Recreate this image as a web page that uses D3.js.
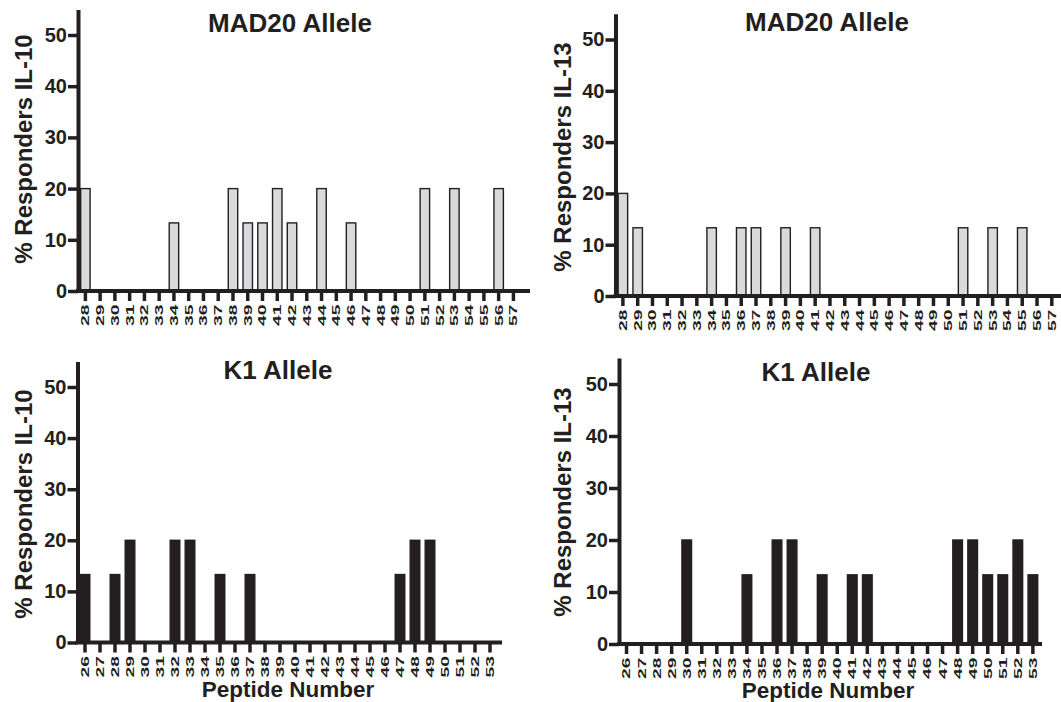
<!DOCTYPE html>
<html>
<head>
<meta charset="utf-8">
<script src="https://cdn.jsdelivr.net/npm/d3@7"></script>
<style>
  body { margin: 0; background: #fff; }
  svg { display: block; font-family: "Liberation Sans", Arial, Helvetica, sans-serif; font-weight: bold; }
</style>
</head>
<body>
<div id="chart"></div>
<script>
// peptide numbers (x categories)
const mad20Peptides = ["28","29","30","31","32","33","34","35","36","37","38","39","40","41","42","43","44","45","46","47","48","49","50","51","52","53","54","55","56","57"];
const k1Peptides = ["26","27","28","29","30","31","32","33","34","35","36","37","38","39","40","41","42","43","44","45","46","47","48","49","50","51","52","53"];

// % responders
const mad20IL10 = [20,0,0,0,0,0,13.3,0,0,0,20,13.3,13.3,20,13.3,0,20,0,13.3,0,0,0,0,20,0,20,0,0,20,0];
const mad20IL13 = [20,13.3,0,0,0,0,13.3,0,13.3,13.3,0,13.3,0,13.3,0,0,0,0,0,0,0,0,0,13.3,0,13.3,0,13.3,0,0];
const k1IL10 = [13.3,0,13.3,20,0,0,20,20,0,13.3,0,13.3,0,0,0,0,0,0,0,0,0,13.3,20,20,0,0,0,0];
const k1IL13 = [0,0,0,0,20,0,0,0,13.3,0,20,20,0,13.3,0,13.3,13.3,0,0,0,0,0,20,20,13.3,13.3,20,13.3];

const yTicks = [0, 10, 20, 30, 40, 50];

const ink = "#231f20";
const width = 1061, height = 702;

const svg = d3.select("#chart").append("svg")
  .attr("width", width)
  .attr("height", height);

const panels = [
  {title: "MAD20 Allele", ylab: "% Responders IL-10", cats: mad20Peptides, vals: mad20IL10, fill: "#d9dadc",
   x0: 78, step: 14.76, y0: 291, unit: 5.12, xEnd: 530, tx: 290, ty: 32, yx: 23, yy: 149, xlab: false},
  {title: "MAD20 Allele", ylab: "% Responders IL-13", cats: mad20Peptides, vals: mad20IL13, fill: "#d9dadc",
   x0: 615.5, step: 14.79, y0: 296, unit: 5.13, xEnd: 1061, tx: 827, ty: 31, yx: 562, yy: 157, xlab: false},
  {title: "K1 Allele", ylab: "% Responders IL-10", cats: k1Peptides, vals: k1IL10, fill: ink,
   x0: 77.5, step: 15.0, y0: 642.5, unit: 5.11, xEnd: 502, tx: 278, ty: 379, yx: 23, yy: 504, xlab: true, lx: 288, ly: 697},
  {title: "K1 Allele", ylab: "% Responders IL-13", cats: k1Peptides, vals: k1IL13, fill: ink,
   x0: 619, step: 15.05, y0: 644, unit: 5.2, xEnd: 1042, tx: 816, ty: 381, yx: 562, yy: 502, xlab: true, lx: 828, ly: 698}
];

const fontFam = "'Liberation Sans', Arial, sans-serif";

panels.forEach(p => {
  const g = svg.append("g");
  const n = p.cats.length;

  const x = d3.scaleBand()
    .domain(p.cats)
    .range([p.x0, p.x0 + n * p.step])
    .paddingInner(0.36)
    .paddingOuter(0.18);

  const y = d3.scaleLinear()
    .domain([0, 55])
    .range([p.y0, p.y0 - 55 * p.unit]);

  const data = p.cats.map((c, i) => ({cat: c, v: p.vals[i]}));

  // bars
  g.append("g")
    .selectAll("rect")
    .data(data.filter(d => d.v > 0))
    .join("rect")
    .attr("x", d => x(d.cat))
    .attr("width", x.bandwidth())
    .attr("y", d => y(d.v))
    .attr("height", d => y(0) - y(d.v))
    .attr("fill", p.fill)
    .attr("stroke", ink)
    .attr("stroke-width", 1.4);

  // y axis
  const ya = g.append("g")
    .attr("transform", `translate(${p.x0},0)`)
    .call(d3.axisLeft(y).tickValues(yTicks).tickSize(10).tickSizeOuter(0).tickPadding(1));
  ya.select(".domain").attr("stroke", ink).attr("stroke-width", 4);
  ya.selectAll(".tick line").attr("stroke", ink).attr("stroke-width", 3.5);
  ya.selectAll(".tick text")
    .attr("fill", ink)
    .style("font-size", "20px")
    .style("font-weight", "bold")
    .style("font-family", fontFam);

  // x axis
  const xa = g.append("g")
    .attr("transform", `translate(0,${p.y0})`)
    .call(d3.axisBottom(x).tickSize(10).tickSizeOuter(0));
  xa.select(".domain").remove();
  xa.append("line")
    .attr("x1", p.x0 - 2).attr("x2", p.xEnd)
    .attr("stroke", ink).attr("stroke-width", 4);
  xa.selectAll(".tick line").attr("stroke", ink).attr("stroke-width", 3.5);
  xa.selectAll(".tick text")
    .attr("fill", ink)
    .attr("x", 0).attr("y", 0).attr("dy", "0.36em")
    .attr("text-anchor", "end")
    .attr("transform", "translate(0,13.5) rotate(-90) scale(1.75,1)")
    .style("font-size", "11px")
    .style("font-weight", "bold")
    .style("font-family", fontFam);

  // titles
  g.append("text")
    .attr("x", p.tx).attr("y", p.ty)
    .attr("text-anchor", "middle")
    .attr("fill", ink)
    .style("font-size", "26px")
    .text(p.title);

  g.append("text")
    .attr("transform", `translate(${p.yx},${p.yy}) rotate(-90)`)
    .attr("text-anchor", "middle")
    .attr("dy", "0.36em")
    .attr("fill", ink)
    .style("font-size", "24px")
    .text(p.ylab);

  if (p.xlab) {
    g.append("text")
      .attr("x", p.lx).attr("y", p.ly)
      .attr("text-anchor", "middle")
      .attr("fill", ink)
      .style("font-size", "22.5px")
      .text("Peptide Number");
  }
});
</script>
</body>
</html>
